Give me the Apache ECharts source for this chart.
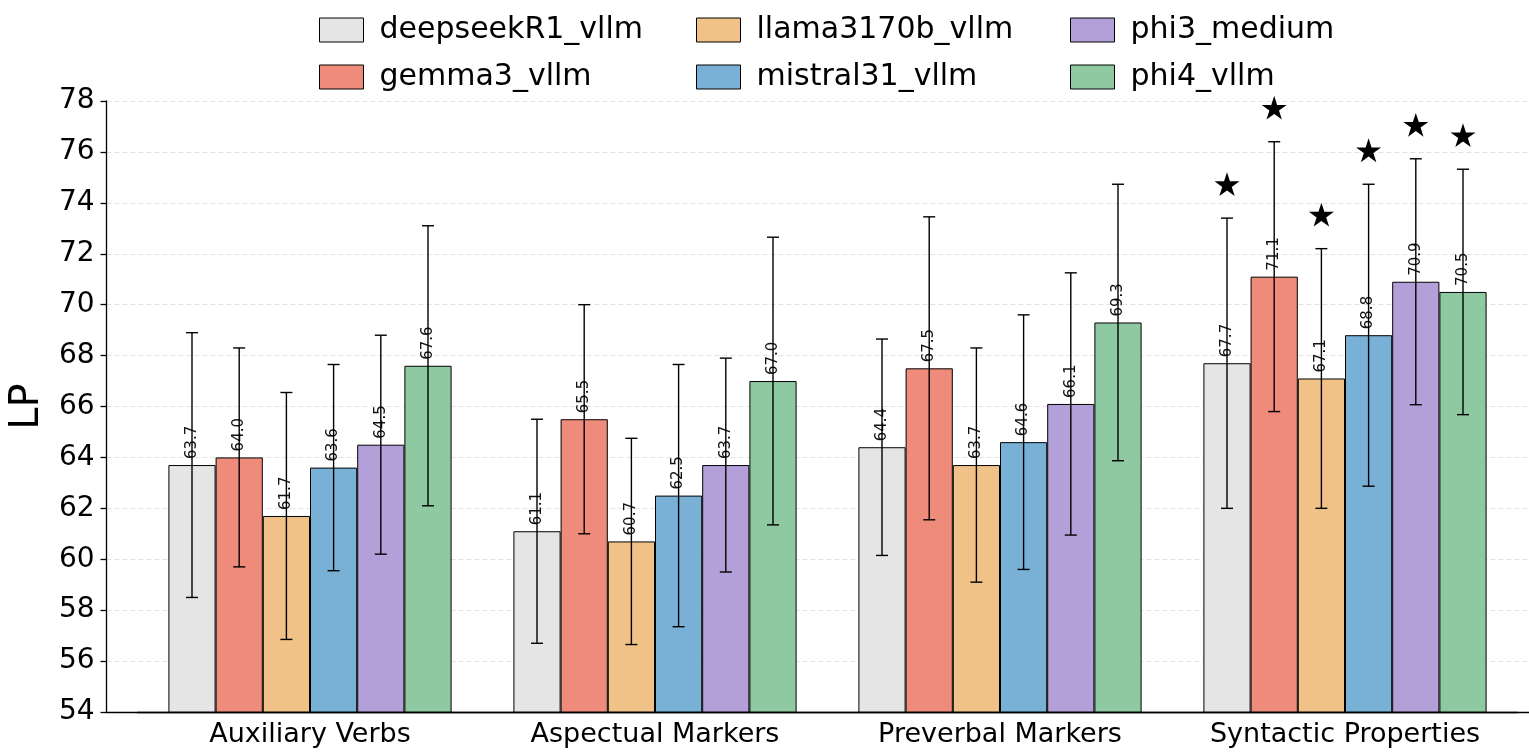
<!DOCTYPE html>
<html>
<head>
<meta charset="utf-8">
<script src="https://cdn.jsdelivr.net/npm/echarts@6/dist/echarts.min.js"></script>
<style>
html, body { margin: 0; padding: 0; background: #fff; }
#chart { width: 1529px; height: 756px; }
</style>
</head>
<body>
<div id="chart"></div>
<script>
// x categories
const categories = ['Auxiliary Verbs', 'Aspectual Markers', 'Preverbal Markers', 'Syntactic Properties'];
const models = ['deepseekR1_vllm', 'gemma3_vllm', 'llama3170b_vllm', 'mistral31_vllm', 'phi3_medium', 'phi4_vllm'];

// mean LP, one per category
const deepseekR1Mean = [63.7, 61.1, 64.4, 67.7];
const gemma3Mean = [64.0, 65.5, 67.5, 71.1];
const llama3170bMean = [61.7, 60.7, 63.7, 67.1];
const mistral31Mean = [63.6, 62.5, 64.6, 68.8];
const phi3MediumMean = [64.5, 63.7, 66.1, 70.9];
const phi4Mean = [67.6, 67.0, 69.3, 70.5];

// error bar half width (std), one per category
const deepseekR1Err = [5.2, 4.4, 4.25, 5.7];
const gemma3Err = [4.3, 4.5, 5.95, 5.3];
const llama3170bErr = [4.85, 4.05, 4.6, 5.1];
const mistral31Err = [4.05, 5.15, 5.0, 5.93];
const phi3MediumErr = [4.3, 4.2, 5.15, 4.83];
const phi4Err = [5.5, 5.65, 5.43, 4.82];

// groups with a significance star over every bar
const starredGroups = ['Syntactic Properties'];

// y axis ticks
const yMin = 54;
const yMax = 78;
const yStep = 2;

const means = [deepseekR1Mean, gemma3Mean, llama3170bMean, mistral31Mean, phi3MediumMean, phi4Mean];
const errs = [deepseekR1Err, gemma3Err, llama3170bErr, mistral31Err, phi3MediumErr, phi4Err];
const colors = ['#e5e5e5', '#ef8b7a', '#f0c287', '#79b1d6', '#b4a0d8', '#8ec9a1'];

const font = 'DejaVu Sans';
const barW = 47.2;
const capW = 6;
const starPath = 'path://M0,-10 L2.245,-3.09 L9.511,-3.09 L3.633,1.18 L5.878,8.09 L0,3.82 L-5.878,8.09 L-3.633,1.18 L-9.511,-3.09 L-2.245,-3.09 Z';

const chart = echarts.init(document.getElementById('chart'));

const series = [];
models.forEach((name, k) => {
    series.push({
        name: name,
        type: 'bar',
        xAxisIndex: 1,
        yAxisIndex: 1,
        data: means[k],
        barWidth: barW,
        barGap: '0%',
        itemStyle: { color: colors[k], borderColor: '#000', borderWidth: 1 },
        label: {
            show: true,
            position: 'top',
            rotate: 90,
            align: 'left',
            verticalAlign: 'middle',
            distance: 6,
            fontSize: 15,
            color: '#111',
            fontFamily: font,
            formatter: p => p.value.toFixed(1)
        },
        z: 2
    });
    // error bars
    series.push({
        type: 'custom',
        xAxisIndex: 1,
        yAxisIndex: 1,
        silent: true,
        z: 5,
        data: means[k].map((m, i) => [i, m - errs[k][i], m + errs[k][i]]),
        encode: { x: 0, y: [1, 2] },
        renderItem: function (params, api) {
            const lo = api.coord([api.value(0), api.value(1)]);
            const hi = api.coord([api.value(0), api.value(2)]);
            const x = lo[0] + (k - 2.5) * barW;
            const style = { stroke: '#000', lineWidth: 1.4 };
            return {
                type: 'group',
                children: [
                    { type: 'line', shape: { x1: x, y1: lo[1], x2: x, y2: hi[1] }, style: style },
                    { type: 'line', shape: { x1: x - capW, y1: hi[1], x2: x + capW, y2: hi[1] }, style: style },
                    { type: 'line', shape: { x1: x - capW, y1: lo[1], x2: x + capW, y2: lo[1] }, style: style }
                ]
            };
        }
    });
    // stars sit above the top of the error bar
    const stars = [];
    categories.forEach((c, i) => {
        if (starredGroups.includes(c)) stars.push([i, means[k][i] + errs[k][i]]);
    });
    series.push({
        type: 'scatter',
        xAxisIndex: 1,
        yAxisIndex: 1,
        silent: true,
        z: 6,
        symbol: starPath,
        symbolKeepAspect: true,
        symbolSize: 25,
        symbolOffset: [(k - 2.5) * barW, -34],
        itemStyle: { color: '#000', opacity: 1 },
        data: stars
    });
});

const legendLeft = [319, 696, 1070];

const option = {
    backgroundColor: '#fff',
    animation: false,
    textStyle: { fontFamily: font },
    legend: legendLeft.map((left, c) => ({
        orient: 'vertical',
        left: left,
        top: 13,
        padding: 0,
        data: models.slice(c * 2, c * 2 + 2),
        icon: 'rect',
        itemWidth: 44,
        itemHeight: 24,
        itemGap: 13,
        selectedMode: false,
        itemStyle: { borderColor: '#000', borderWidth: 1 },
        textStyle: { fontSize: 30, lineHeight: 34, color: '#000', fontFamily: font, padding: [0, 0, 0, 11] }
    })),
    grid: [
        // full plot frame: y axis, grid lines, x axis line
        { left: 103, right: 0, top: 101, bottom: 44 },
        // bars
        { left: 137.5, right: 11.5, top: 101, bottom: 44 }
    ],
    xAxis: [
        {
            gridIndex: 0,
            type: 'value',
            min: 0,
            max: 1,
            axisLine: { lineStyle: { color: '#000', width: 1.3 } },
            axisTick: { show: false },
            axisLabel: { show: false },
            splitLine: { show: false }
        },
        {
            gridIndex: 1,
            type: 'category',
            data: categories,
            axisLine: { lineStyle: { color: '#000', width: 1.3 } },
            axisTick: { alignWithLabel: true, length: 6, lineStyle: { color: '#000', width: 1.3 } },
            axisLabel: { interval: 0, fontSize: 27, color: '#000', margin: 9, fontFamily: font },
            splitLine: { show: false }
        }
    ],
    yAxis: [
        {
            gridIndex: 0,
            type: 'value',
            min: yMin,
            max: yMax,
            interval: yStep,
            name: 'LP',
            nameLocation: 'middle',
            nameGap: 58,
            nameTextStyle: { fontSize: 40, color: '#000', fontFamily: font },
            axisLine: { show: true, lineStyle: { color: '#000', width: 1.3 } },
            axisTick: { show: true, length: 6, lineStyle: { color: '#000', width: 1.3 } },
            axisLabel: { fontSize: 28, color: '#000', margin: 12, fontFamily: font },
            splitLine: { show: true, lineStyle: { type: [5, 3], color: '#e2e2e2', width: 1 } }
        },
        {
            gridIndex: 1,
            type: 'value',
            min: yMin,
            max: yMax,
            show: false
        }
    ],
    series: series
};

chart.setOption(option);
</script>
</body>
</html>
